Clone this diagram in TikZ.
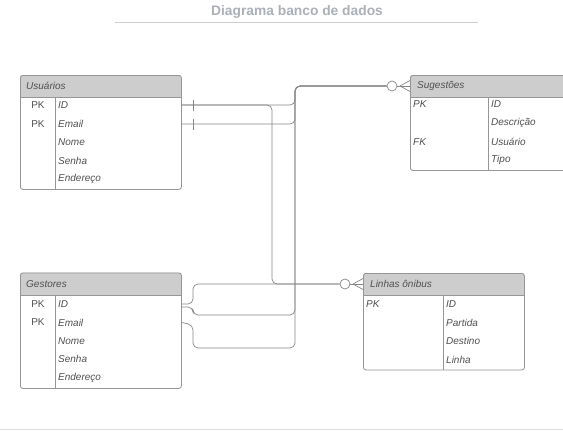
\documentclass[tikz,border=0pt]{standalone}
\usepackage{fontspec}
\setmainfont{Liberation Sans}
\usepackage{tikz}
\usepackage{xcolor}
\definecolor{linha}{RGB}{135,135,135}
\definecolor{borda}{RGB}{150,150,150}
\definecolor{cabec}{RGB}{205,205,205}
\definecolor{texto}{RGB}{80,80,80}
\definecolor{titulo}{RGB}{172,176,184}
\definecolor{regua}{RGB}{205,205,205}

\begin{document}
\begin{tikzpicture}[x=1pt,y=-1pt,
    tabela/.style={draw=borda, line width=0.8pt, rounded corners=2.5pt, anchor=north west, inner sep=0pt, minimum width=161pt},
    grade/.style={draw=borda, line width=0.8pt},
    campo/.style={anchor=west, inner sep=0pt, text=texto, font=\fontsize{10}{12}\selectfont\itshape},
    chave/.style={inner sep=0pt, text=texto, font=\fontsize{10}{12}\selectfont},
    rel/.style={draw=linha, line width=0.7pt, rounded corners=5pt},
    circulo/.style={circle, draw=linha, line width=0.7pt, fill=white, minimum size=10pt, inner sep=0pt}]
                % Page
                \useasboundingbox (0,0) rectangle (563,431);
                \clip (0,0) rectangle (563,431);
                \fill[white] (0,0) rectangle (563,431);

                % Title
                \node[font=\fontsize{13.8}{16}\selectfont\bfseries, text=titulo] (titulo) at (297,12) {Diagrama banco de dados};
                \draw[regua, line width=1.5pt] (115,22.5) -- (478,22.5);
                \draw[regua!70, line width=1pt] (0,429.5) -- (563,429.5);

                % Usuarios
                \fill[cabec] (20,97) [rounded corners=2.5pt] -- (20,75) -- (181,75) [sharp corners] -- (181,97) -- cycle;
                \node[tabela, minimum height=114pt] (usr) at (20,75) {};
                \draw[grade] (20,97) -- (181,97) (55,97) -- (55,189);
                \node[campo] (usrTit) at (26,86) {Usuários};
                \node[chave] (usrPK1) at (38,105) {PK};
                \node[chave] (usrPK2) at (38,124) {PK};
                \node[campo] (usrID) at (58,105) {ID};
                \node[campo] (usrEmail) at (58,124) {Email};
                \node[campo] (usrNome) at (58,142) {Nome};
                \node[campo] (usrSenha) at (58,160.5) {Senha};
                \node[campo] (usrEnd) at (58,179) {Endereço};

                % Gestores
                \fill[cabec] (20,295) [rounded corners=2.5pt] -- (20,272.5) -- (181,272.5) [sharp corners] -- (181,295) -- cycle;
                \node[tabela, minimum height=115.5pt] (ges) at (20,272.5) {};
                \draw[grade] (20,295) -- (181,295) (55,295) -- (55,388);
                \node[campo] (gesTit) at (26,284) {Gestores};
                \node[chave] (gesPK1) at (38,304) {PK};
                \node[chave] (gesPK2) at (38,322.5) {PK};
                \node[campo] (gesID) at (58,304) {ID};
                \node[campo] (gesEmail) at (58,322.5) {Email};
                \node[campo] (gesNome) at (58,341) {Nome};
                \node[campo] (gesSenha) at (58,359) {Senha};
                \node[campo] (gesEnd) at (58,377.5) {Endereço};

                % Sugestoes
                \fill[cabec] (410,97) [rounded corners=2.5pt] -- (410,75) -- (571,75) [sharp corners] -- (571,97) -- cycle;
                \node[tabela, minimum height=95pt] (sug) at (410,75) {};
                \draw[grade] (410,97) -- (571,97) (488.5,97) -- (488.5,170);
                \node[campo] (sugTit) at (417,86) {Sugestões};
                \node[campo] (sugPK) at (413,104.5) {PK};
                \node[campo] (sugFK) at (413,142) {FK};
                \node[campo] (sugID) at (491,104.5) {ID};
                \node[campo] (sugDesc) at (491,123) {Descrição};
                \node[campo] (sugUsr) at (491,142) {Usuário};
                \node[campo] (sugTipo) at (491,160) {Tipo};

                % Linhas onibus
                \fill[cabec] (363,295) [rounded corners=2.5pt] -- (363,273) -- (524,273) [sharp corners] -- (524,295) -- cycle;
                \node[tabela, minimum height=96.5pt] (lin) at (363,273) {};
                \draw[grade] (363,295) -- (524,295) (443,295) -- (443,369.5);
                \node[campo] (linTit) at (370,284) {Linhas ônibus};
                \node[campo] (linPK) at (366,304) {PK};
                \node[campo] (linID) at (446,304) {ID};
                \node[campo] (linPart) at (446,322.5) {Partida};
                \node[campo] (linDest) at (446,341) {Destino};
                \node[campo] (linLinha) at (446,359.5) {Linha};

                % Zero or many ends
                \node[circulo] (sugCirc) at (392,86) {};
                \draw[rel] (sugCirc.east) -- (sug.west |- sugCirc);
                \draw[rel] (400,86) -- ([yshift=5.5pt]sug.west |- sugCirc) (400,86) -- ([yshift=-5.5pt]sug.west |- sugCirc);
                \node[circulo] (linCirc) at (345,284) {};
                \draw[rel] (linCirc.east) -- (lin.west |- linCirc);
                \draw[rel] (353,284) -- ([yshift=5.5pt]lin.west |- linCirc) (353,284) -- ([yshift=-5.5pt]lin.west |- linCirc);

                % Relations
                \draw[rel] (usr.east |- usrID) -- (295,105) -- (295,86) -- (sugCirc.west);
                \draw[rel] (usr.east |- usrEmail) -- (295,124) -- (295,86) -- (sugCirc.west);
                \draw[rel] (usr.east |- usrID) -- (272,105) -- (272,284) -- (linCirc.west);
                \draw[rel] (ges.east |- gesID) -- (193,304) -- (193,284) -- (linCirc.west);
                \draw[rel] ([yshift=-3pt]ges.east |- gesID) -- (193,307) -- (193,315) -- (295,315) -- (295,86) -- (sugCirc.west);
                \draw[rel] (ges.east |- gesEmail) -- (193,325) -- (193,348) -- (295,348) -- (295,86) -- (sugCirc.west);

                % One marks
                \draw[linha, line width=0.7pt] (193,99.5) -- (193,110.5) (193,118.5) -- (193,129.5);
\end{tikzpicture}
\end{document}
